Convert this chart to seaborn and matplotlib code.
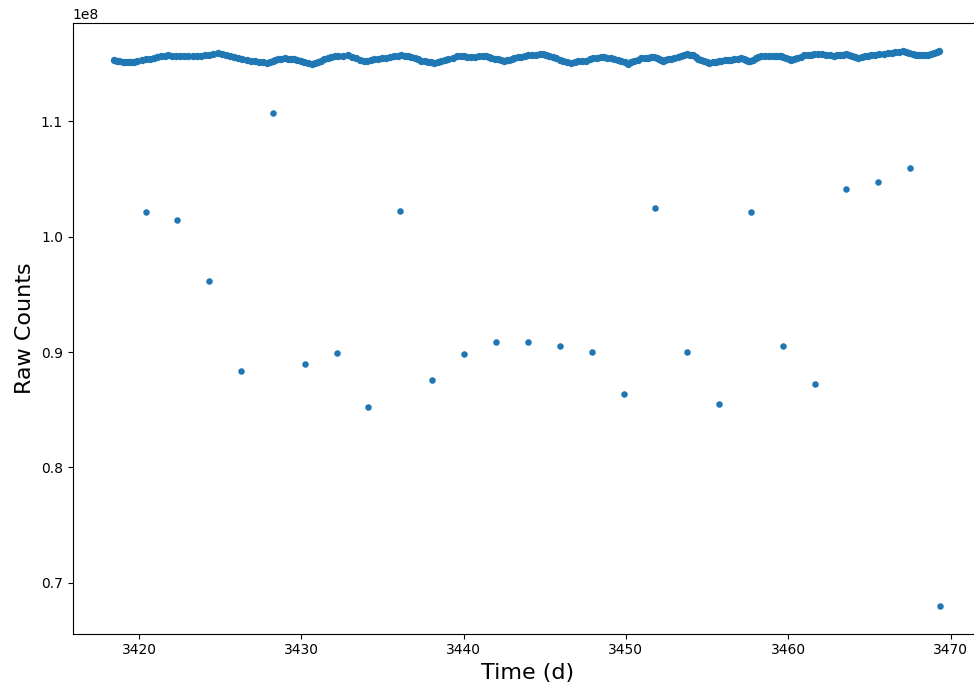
import matplotlib
matplotlib.use("Agg")
import matplotlib.pyplot as plt
import seaborn as sns
import pandas as pd

# Quiet baseline of the light curve (time in days, raw counts / 1e8)
base_time = [
    3418.46, 3418.77, 3419.20, 3419.51, 3419.88, 3420.43, 3420.92, 3421.36, 3421.79, 3422.28,
    3422.77, 3423.33, 3423.82, 3424.31, 3424.87, 3425.36, 3425.85, 3426.35, 3426.90, 3427.39,
    3427.89, 3428.26, 3428.56, 3429.00, 3429.37, 3429.74, 3430.17, 3430.66, 3431.03, 3431.40,
    3431.83, 3432.26, 3432.88, 3433.37, 3433.86, 3434.29, 3434.73, 3435.22, 3435.71, 3436.14,
    3436.57, 3437.01, 3437.38, 3437.81, 3438.18, 3438.61, 3439.04, 3439.59, 3440.02, 3440.46,
    3440.95, 3441.38, 3441.69, 3442.12, 3442.49, 3442.80, 3443.11, 3443.54, 3443.97, 3444.46,
    3444.89, 3445.26, 3445.69, 3446.12, 3446.62, 3447.05, 3447.54, 3447.97, 3448.47, 3448.84,
    3449.27, 3449.70, 3450.13, 3450.50, 3450.93, 3451.36, 3451.73, 3452.04, 3452.29, 3452.59,
    3452.96, 3453.40, 3453.77, 3454.13, 3454.44, 3454.81, 3455.12, 3455.55, 3455.86, 3456.29,
    3456.66, 3457.09, 3457.40, 3457.65, 3458.02, 3458.32, 3458.82, 3459.25, 3459.56, 3459.86,
    3460.17, 3460.54, 3460.97, 3461.40, 3461.84, 3462.33, 3462.82, 3463.19, 3463.56, 3463.93,
    3464.30, 3464.73, 3465.10, 3465.60, 3466.15, 3466.58, 3467.07, 3467.44, 3467.87, 3468.24,
    3468.61, 3468.98, 3469.29,
    3418.62, 3418.99, 3419.36, 3419.70, 3420.16, 3420.68, 3421.14, 3421.58, 3422.04, 3422.52,
    3423.05, 3423.58, 3424.07, 3424.59, 3425.12, 3425.61, 3426.10, 3426.63, 3427.15, 3427.64,
    3428.08, 3428.41, 3428.78, 3429.19, 3429.56, 3429.96, 3430.42, 3430.85, 3431.22, 3431.62,
    3432.05, 3432.57, 3433.13, 3433.62, 3434.08, 3434.51, 3434.98, 3435.47, 3435.93, 3436.36,
    3436.79, 3437.20, 3437.60, 3438.00, 3438.40, 3438.83, 3439.32, 3439.81, 3440.24, 3440.71,
    3441.17, 3441.54, 3441.91, 3442.31, 3442.65, 3442.96, 3443.33, 3443.76, 3444.22, 3444.68,
    3445.08, 3445.48, 3445.91, 3446.37, 3446.84, 3447.30, 3447.76, 3448.22, 3448.66, 3449.06,
    3449.49, 3449.92, 3450.32, 3450.72, 3451.15, 3451.55, 3451.89, 3452.17, 3452.44, 3452.78,
    3453.18, 3453.59, 3453.95, 3454.29, 3454.63, 3454.97, 3455.34, 3455.71, 3456.08, 3456.48,
    3456.88, 3457.25, 3457.53, 3457.84, 3458.17, 3458.57, 3459.04, 3459.41, 3459.71, 3460.02,
    3460.36, 3460.76, 3461.19, 3461.62, 3462.09, 3462.58, 3463.01, 3463.38, 3463.75, 3464.12,
    3464.52, 3464.92, 3465.35, 3465.88, 3466.37, 3466.83, 3467.26, 3467.66, 3468.06, 3468.43,
    3468.80, 3469.14,
]
base_counts = [
    1.1529, 1.1522, 1.1509, 1.1513, 1.1520, 1.1535, 1.1544, 1.1561, 1.1572, 1.1565,
    1.1561, 1.1561, 1.1564, 1.1578, 1.1593, 1.1578, 1.1559, 1.1539, 1.1522, 1.1513,
    1.1507, 1.1518, 1.1541, 1.1544, 1.1539, 1.1531, 1.1513, 1.1500, 1.1509, 1.1538,
    1.1557, 1.1565, 1.1570, 1.1548, 1.1520, 1.1531, 1.1541, 1.1552, 1.1565, 1.1570,
    1.1564, 1.1544, 1.1526, 1.1513, 1.1507, 1.1522, 1.1535, 1.1561, 1.1561, 1.1559,
    1.1561, 1.1561, 1.1548, 1.1535, 1.1525, 1.1531, 1.1550, 1.1557, 1.1570, 1.1578,
    1.1583, 1.1565, 1.1544, 1.1522, 1.1507, 1.1518, 1.1526, 1.1544, 1.1559, 1.1548,
    1.1541, 1.1518, 1.1500, 1.1522, 1.1546, 1.1552, 1.1557, 1.1539, 1.1526, 1.1535,
    1.1548, 1.1565, 1.1585, 1.1570, 1.1541, 1.1522, 1.1507, 1.1513, 1.1524, 1.1533,
    1.1535, 1.1548, 1.1531, 1.1520, 1.1544, 1.1565, 1.1567, 1.1567, 1.1564, 1.1552,
    1.1529, 1.1544, 1.1570, 1.1578, 1.1585, 1.1574, 1.1565, 1.1574, 1.1580, 1.1565,
    1.1552, 1.1561, 1.1570, 1.1580, 1.1587, 1.1596, 1.1606, 1.1592, 1.1570, 1.1572,
    1.1578, 1.1592, 1.1611,
    1.1526, 1.1516, 1.1511, 1.1517, 1.1528, 1.1540, 1.1553, 1.1567, 1.1569, 1.1563,
    1.1561, 1.1563, 1.1571, 1.1586, 1.1586, 1.1569, 1.1549, 1.1531, 1.1518, 1.1510,
    1.1513, 1.1530, 1.1543, 1.1542, 1.1535, 1.1522, 1.1507, 1.1505, 1.1524, 1.1548,
    1.1561, 1.1568, 1.1559, 1.1534, 1.1526, 1.1536, 1.1547, 1.1559, 1.1568, 1.1567,
    1.1554, 1.1535, 1.1520, 1.1510, 1.1515, 1.1529, 1.1548, 1.1561, 1.1560, 1.1560,
    1.1561, 1.1555, 1.1542, 1.1530, 1.1528, 1.1541, 1.1554, 1.1564, 1.1574, 1.1581,
    1.1574, 1.1555, 1.1533, 1.1515, 1.1513, 1.1522, 1.1535, 1.1552, 1.1554, 1.1545,
    1.1530, 1.1509, 1.1511, 1.1534, 1.1549, 1.1555, 1.1548, 1.1533, 1.1531, 1.1542,
    1.1557, 1.1575, 1.1578, 1.1556, 1.1532, 1.1515, 1.1510, 1.1519, 1.1529, 1.1534,
    1.1542, 1.1540, 1.1526, 1.1532, 1.1555, 1.1566, 1.1567, 1.1566, 1.1558, 1.1541,
    1.1537, 1.1557, 1.1574, 1.1582, 1.1580, 1.1570, 1.1570, 1.1577, 1.1573, 1.1559,
    1.1557, 1.1566, 1.1575, 1.1584, 1.1592, 1.1601, 1.1599, 1.1581, 1.1571, 1.1575,
    1.1585, 1.1602,
]

# Low-count cadences, roughly every two days (raw counts / 1e8)
dip_time = [
    3420.43, 3422.34, 3424.31, 3426.28, 3428.26, 3430.23, 3432.20, 3434.11, 3436.08, 3438.05,
    3440.02, 3441.99, 3443.97, 3445.94, 3447.91, 3449.88, 3451.79, 3453.76, 3455.74, 3457.71,
    3459.68, 3461.65, 3463.56, 3465.53, 3467.51, 3469.37,
]
dip_counts = [
    1.0217, 1.0147, 0.9618, 0.8838, 1.1067, 0.8899, 0.8988, 0.8526, 1.0226, 0.8757,
    0.8979, 0.9091, 0.9091, 0.9056, 0.8996, 0.8638, 1.0251, 0.8997, 0.8552, 1.0217,
    0.9048, 0.8725, 1.0416, 1.0476, 1.0598, 0.6800,
]

SCALE = 1e8
base = pd.DataFrame({"time": base_time, "flux": [v * SCALE for v in base_counts]})
dips = pd.DataFrame({"time": dip_time, "flux": [v * SCALE for v in dip_counts]})

fig = plt.figure(figsize=(9.74, 6.89), dpi=100)
ax = fig.add_axes([0.0746, 0.0803, 0.9332, 0.8864])

sns.scatterplot(data=base, x="time", y="flux", ax=ax, color="#1f77b4",
                s=28, linewidth=0, legend=False)
sns.scatterplot(data=dips, x="time", y="flux", ax=ax, color="#1f77b4",
                s=22, linewidth=0, legend=False)

ax.set_xlabel("Time (d)", fontsize=16)
ax.set_ylabel("Raw Counts", fontsize=16)
ax.set_xticks([3420, 3430, 3440, 3450, 3460, 3470])

fig.savefig("out.png", dpi=100)
